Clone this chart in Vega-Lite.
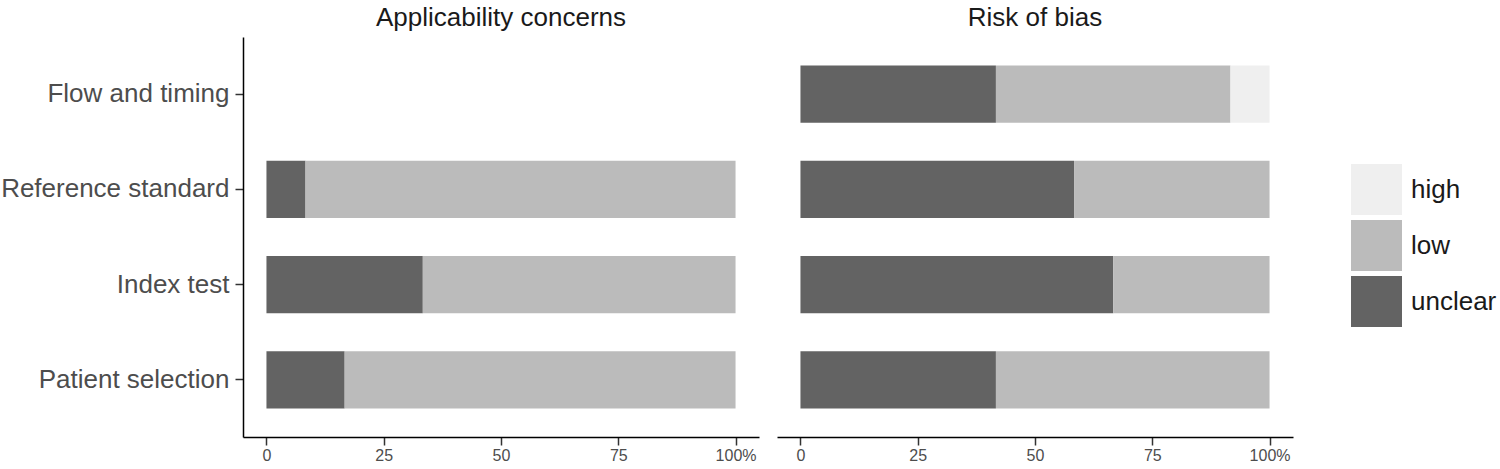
{
  "$schema": "https://vega.github.io/schema/vega-lite/v6.json",
  "padding": {"left": 0, "top": 5, "right": 0, "bottom": 0},
  "background": "white",
  "data": {
    "values": [
      {"panel": "Applicability concerns", "domain": "Patient selection", "level": "unclear", "pct": 16.67},
      {"panel": "Applicability concerns", "domain": "Patient selection", "level": "low", "pct": 83.33},
      {"panel": "Applicability concerns", "domain": "Index test", "level": "unclear", "pct": 33.33},
      {"panel": "Applicability concerns", "domain": "Index test", "level": "low", "pct": 66.67},
      {"panel": "Applicability concerns", "domain": "Reference standard", "level": "unclear", "pct": 8.33},
      {"panel": "Applicability concerns", "domain": "Reference standard", "level": "low", "pct": 91.67},
      {"panel": "Risk of bias", "domain": "Patient selection", "level": "unclear", "pct": 41.67},
      {"panel": "Risk of bias", "domain": "Patient selection", "level": "low", "pct": 58.33},
      {"panel": "Risk of bias", "domain": "Index test", "level": "unclear", "pct": 66.67},
      {"panel": "Risk of bias", "domain": "Index test", "level": "low", "pct": 33.33},
      {"panel": "Risk of bias", "domain": "Reference standard", "level": "unclear", "pct": 58.33},
      {"panel": "Risk of bias", "domain": "Reference standard", "level": "low", "pct": 41.67},
      {"panel": "Risk of bias", "domain": "Flow and timing", "level": "unclear", "pct": 41.67},
      {"panel": "Risk of bias", "domain": "Flow and timing", "level": "low", "pct": 50.0},
      {"panel": "Risk of bias", "domain": "Flow and timing", "level": "high", "pct": 8.33}
    ]
  },
  "facet": {
    "column": {
      "field": "panel",
      "type": "nominal",
      "header": {
        "title": null,
        "labelFontSize": 26,
        "labelFont": "Liberation Sans",
        "labelColor": "#1a1a1a",
        "labelPadding": 6
      }
    }
  },
  "spacing": 18,
  "spec": {
    "width": 516,
    "height": 400,
    "mark": {"type": "bar"},
    "encoding": {
      "y": {
        "field": "domain",
        "type": "nominal",
        "sort": ["Flow and timing", "Reference standard", "Index test", "Patient selection"],
        "scale": {"paddingInner": 0.4, "paddingOuter": 0.3},
        "axis": {
          "title": null,
          "grid": false,
          "domain": true,
          "domainColor": "#000000",
          "domainWidth": 1.5,
          "ticks": true,
          "tickColor": "#333333",
          "tickSize": 8,
          "tickWidth": 1.5,
          "labelFontSize": 26,
          "labelFont": "Liberation Sans",
          "labelColor": "#4d4d4d",
          "labelPadding": 6,
          "labelLimit": 0
        }
      },
      "x": {
        "field": "pct",
        "type": "quantitative",
        "stack": "zero",
        "scale": {"domain": [-5, 105], "nice": false, "zero": false},
        "axis": {
          "title": null,
          "grid": false,
          "values": [0, 25, 50, 75, 100],
          "labelExpr": "datum.value == 100 ? '100%' : datum.label",
          "domain": true,
          "domainColor": "#000000",
          "domainWidth": 1.5,
          "ticks": true,
          "tickColor": "#333333",
          "tickSize": 8,
          "tickWidth": 1.5,
          "labelFontSize": 16,
          "labelFont": "Liberation Sans",
          "labelColor": "#4d4d4d",
          "labelPadding": 2
        }
      },
      "color": {
        "field": "level",
        "type": "nominal",
        "scale": {"domain": ["high", "low", "unclear"], "range": ["#efefef", "#bbbbbb", "#636363"]},
        "legend": {
          "title": null,
          "orient": "none",
          "legendX": 1108,
          "legendY": 127,
          "symbolType": "square",
          "symbolSize": 2601,
          "symbolStrokeWidth": 0,
          "symbolOpacity": 1,
          "labelFontSize": 26,
          "labelFont": "Liberation Sans",
          "labelColor": "#1a1a1a",
          "labelOffset": 9,
          "rowPadding": 5,
          "padding": 0
        }
      },
      "order": {"field": "level", "sort": "descending"}
    }
  },
  "config": {
    "view": {"stroke": null},
    "font": "Liberation Sans"
  }
}
